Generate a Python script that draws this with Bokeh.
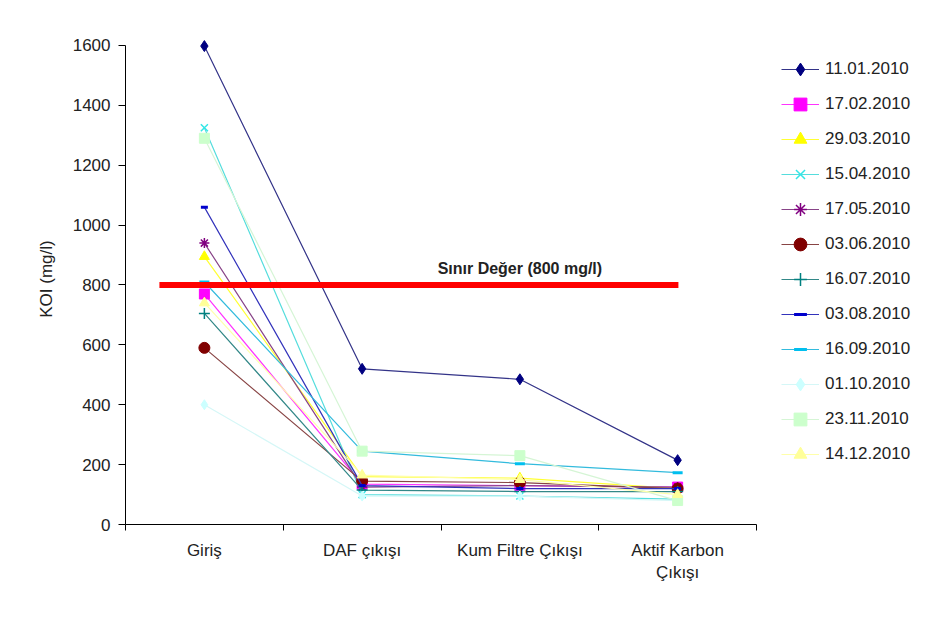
from bokeh.plotting import figure
from bokeh.models import Range1d, FixedTicker, Legend, LegendItem, ColumnDataSource
from bokeh.embed import file_html
from bokeh.resources import INLINE
from bokeh.core.properties import value

categories = ["Giriş", "DAF çıkışı", "Kum Filtre Çıkışı", "Aktif Karbon\nÇıkışı"]
cat_pos = [0.5, 1.5, 2.5, 3.5]

dates = ["11.01.2010", "17.02.2010", "29.03.2010", "15.04.2010", "17.05.2010", "03.06.2010",
         "16.07.2010", "03.08.2010", "16.09.2010", "01.10.2010", "23.11.2010", "14.12.2010"]
s_11_01 = [1598, 520, 485, 215]
s_17_02 = [770, 135, 130, 125]
s_29_03 = [895, 160, 155, 120]
s_15_04 = [1325, 100, 95, 85]
s_17_05 = [940, 125, 130, 125]
s_03_06 = [590, 145, 140, 120]
s_16_07 = [705, 115, 110, 110]
s_03_08 = [1060, 130, 120, 120]
s_16_09 = [810, 245, 203, 173]
s_01_10 = [400, 95, 95, 80]
s_23_11 = [1290, 245, 230, 80]
s_14_12 = [740, 165, 150, 100]
series = [s_11_01, s_17_02, s_29_03, s_15_04, s_17_05, s_03_06,
          s_16_07, s_03_08, s_16_09, s_01_10, s_23_11, s_14_12]

colors = ["#000080", "#FF00FF", "#FFFF00", "#33E6E6", "#800080", "#800000",
          "#008080", "#0000CC", "#00BFEF", "#CCFFFF", "#CCFFCC", "#FFFF99"]
line_colors = ["#333388", "#FF33FF", "#FFFF33", "#55DDDD", "#884488", "#884444",
               "#338888", "#3333BB", "#33BBDD", "#D5F7F7", "#D5F5D5", "#FFFFAA"]
markers = ["diamond", "square", "triangle", "x", "asterisk", "circle",
           "cross", "dash", "dash", "diamond", "square", "triangle"]
msizes = [11, 10, 10, 10, 10, 11, 11, 7, 10, 10, 10, 10]

limit_value = 800
limit_x = [0.215, 3.505]
limit_label = "Sınır Değer (800 mg/l)"
limit_label_x = 2.5

FONT = "Liberation Sans"
TXT = "#222222"
FS = "17px"

p = figure(frame_width=631, frame_height=491, output_backend="svg", toolbar_location=None,
           x_range=Range1d(0, 4), y_range=Range1d(0, 1640),
           min_border_left=125, min_border_top=33, min_border_bottom=90, min_border_right=10,
           background_fill_color="white", border_fill_color="white")
p.outline_line_color = None
p.xgrid.visible = False
p.ygrid.visible = False

# x axis
p.xaxis.ticker = FixedTicker(ticks=cat_pos, minor_ticks=[0, 1, 2, 3, 4])
p.xaxis.major_label_overrides = {c: l for c, l in zip(cat_pos, categories)}
p.xaxis.major_tick_line_color = None
p.xaxis.minor_tick_line_color = "black"
p.xaxis.minor_tick_out = 6
p.xaxis.minor_tick_in = 0
p.xaxis.axis_line_color = "black"
p.xaxis.major_label_standoff = 10
p.xaxis.major_label_text_font = FONT
p.xaxis.major_label_text_font_size = FS
p.xaxis.major_label_text_color = TXT

# y axis
p.yaxis.ticker = FixedTicker(ticks=list(range(0, 1601, 200)))
p.yaxis.bounds = (0, 1600)
p.yaxis.minor_tick_line_color = None
p.yaxis.major_tick_out = 7
p.yaxis.major_tick_in = 0
p.yaxis.major_tick_line_color = "black"
p.yaxis.axis_line_color = "black"
p.yaxis.major_label_standoff = 8
p.yaxis.major_label_text_font = FONT
p.yaxis.major_label_text_font_size = FS
p.yaxis.major_label_text_color = TXT
p.yaxis.axis_label = "KOI (mg/l)"
p.yaxis.axis_label_text_font = FONT
p.yaxis.axis_label_text_font_size = FS
p.yaxis.axis_label_text_font_style = "normal"
p.yaxis.axis_label_text_color = TXT
p.yaxis.axis_label_standoff = 14

items = []
for d, s, c, lc, m, ms in zip(dates, series, colors, line_colors, markers, msizes):
    src = ColumnDataSource(dict(x=cat_pos, y=s))
    lr = p.line("x", "y", source=src, line_color=lc, line_width=1.2)
    lw = 3 if m == "dash" else (1.5 if m in ("x", "asterisk", "cross") else 1)
    sr = p.scatter("x", "y", source=src, marker=m, size=ms, fill_color=c, line_color=c, line_width=lw)
    items.append(LegendItem(label=d, renderers=[lr, sr]))

# limit line
p.line(limit_x, [limit_value, limit_value], line_color="#FF0000", line_width=6)
p.text(x=[limit_label_x], y=[limit_value], text=[limit_label], text_font=value(FONT),
       text_font_size="16px", text_color=TXT, text_align="center", text_baseline="bottom",
       y_offset=-8, text_font_style="bold")

legend = Legend(items=items, location=(25, 54), margin=0, padding=0, spacing=3,
                glyph_width=38, glyph_height=32, label_height=32, label_standoff=6,
                label_text_font=FONT, label_text_font_size=FS, label_text_color=TXT,
                border_line_color=None, background_fill_alpha=0)
p.add_layout(legend, "right")

open("out.html", "w").write(file_html(p, INLINE))
